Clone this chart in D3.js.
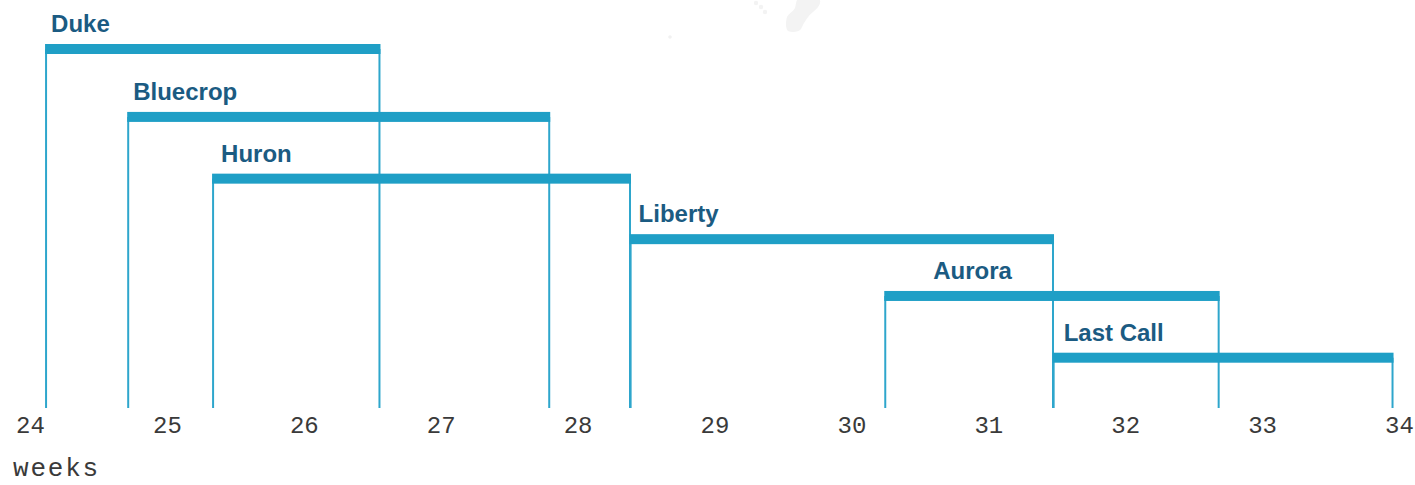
<!DOCTYPE html>
<html>
<head>
<meta charset="utf-8">
<script src="https://cdn.jsdelivr.net/npm/d3@7/dist/d3.min.js"></script>
<style>
  html, body { margin: 0; padding: 0; background: #fff; }
  svg { display: block; }
</style>
</head>
<body>
<svg id="chart" width="1415" height="485"></svg>
<script>
// ---- data ----
const varieties = ["Duke", "Bluecrop", "Huron", "Liberty", "Aurora", "Last Call"];
const startWeek = [24.11, 24.71, 25.33, 28.38, 30.24, 31.47];
const endWeek   = [26.56, 27.80, 28.39, 31.48, 32.69, 33.96];
const rowLevel  = [0, 1.10, 2.10, 3.08, 4.00, 5.00];
const tickWeeks = [24, 25, 26, 27, 28, 29, 30, 31, 32, 33, 34];
const axisTitle = "weeks";

// ---- style ----
const barColor = "#1f9fc6";
const lineColor = "#2ea6cc";
const labelColor = "#1b5b82";
const labelOffset = [6, 6, 9, 9, 49, 11];

const svg = d3.select("#chart");

const x = d3.scaleLinear().domain([24, 34]).range([30, 1399]);
const y = d3.scaleLinear().domain([0, 5]).range([49, 357.7]);
const axisY = 408;
const barH = 10;

const data = varieties.map((name, i) => ({
  name, start: startWeek[i], end: endWeek[i], level: rowLevel[i], off: labelOffset[i]
}));

// faint decorative background shape
const deco = svg.append("g").attr("fill", "#f3f3f3");
deco.append("path")
  .attr("d", "M797,0 L820,0 C821,4 818,8 813,12 C808,16 804,22 801,29 C799,32 792,33 788,31 C785,28 786,20 787,17 C789,13 793,12 795,8 C796,4 796,2 797,0 Z");
[[756,3],[761,7],[765,12]].forEach(p => deco.append("circle").attr("cx", p[0]).attr("cy", p[1]).attr("r", 2.2));
deco.append("circle").attr("cx", 670).attr("cy", 37).attr("r", 1.8).attr("fill", "#f1f1f1");

// axis
const axis = d3.axisBottom(x).tickValues(tickWeeks).tickSize(0).tickPadding(0).tickFormat(d3.format("d"));
const gAxis = svg.append("g").attr("transform", `translate(0,${axisY})`).call(axis);
gAxis.select(".domain").remove();
gAxis.selectAll("text")
  .attr("dy", null)
  .attr("y", 25)
  .attr("font-family", "'Liberation Mono', 'Courier New', monospace")
  .attr("font-size", 24)
  .attr("fill", "#3a3a3a");

svg.append("text")
  .attr("x", 13)
  .attr("y", 476)
  .attr("font-family", "'Liberation Mono', 'Courier New', monospace")
  .attr("font-size", 26)
  .attr("letter-spacing", 1.8)
  .attr("fill", "#3a3a3a")
  .text(axisTitle);

// vertical lines
const g = svg.append("g");
data.forEach(d => {
  const yc = y(d.level);
  [x(d.start) + 1, x(d.end) - 1].forEach(px => {
    g.append("line")
      .attr("x1", px).attr("x2", px)
      .attr("y1", yc).attr("y2", axisY)
      .attr("stroke", lineColor)
      .attr("stroke-width", 2);
  });
});

// bars
g.selectAll("rect.bar").data(data).join("rect")
  .attr("class", "bar")
  .attr("x", d => x(d.start))
  .attr("y", d => y(d.level) - barH / 2)
  .attr("width", d => x(d.end) - x(d.start))
  .attr("height", barH)
  .attr("fill", barColor);

// labels
g.selectAll("text.lbl").data(data).join("text")
  .attr("class", "lbl")
  .attr("x", d => x(d.start) + d.off)
  .attr("y", d => y(d.level) - barH / 2 - 12)
  .attr("font-family", "'Liberation Sans', Arial, sans-serif")
  .attr("font-weight", "bold")
  .attr("font-size", 24)
  .attr("fill", labelColor)
  .text(d => d.name);
</script>
</body>
</html>
